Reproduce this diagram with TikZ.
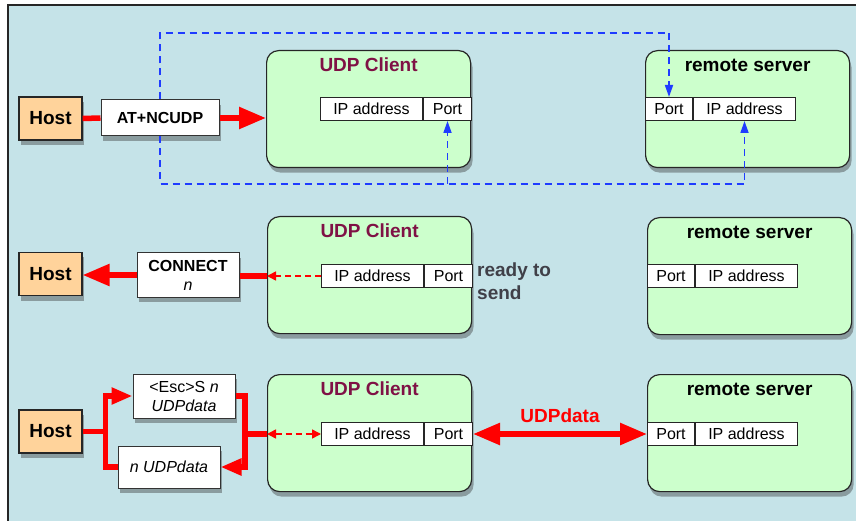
\documentclass[tikz,border=0pt]{standalone}
\usepackage{fontspec}
\setmainfont{Liberation Sans}
\usepackage{tikz}
\usetikzlibrary{arrows.meta,shadows,positioning,calc}

\definecolor{panelblue}{HTML}{C5E3E8}
\definecolor{boxgreen}{HTML}{CCFFCC}
\definecolor{hostorange}{HTML}{FFD39B}
\definecolor{titlered}{HTML}{7F1145}
\definecolor{readygray}{HTML}{404048}
\definecolor{loopblue}{HTML}{1F3CFF}

\begin{document}
\begin{tikzpicture}[x=1pt,y=-1pt,
    every node/.style={font=\fontsize{16}{19}\selectfont},
    boxshadow/.style={drop shadow={shadow xshift=2pt,shadow yshift=-5pt,opacity=0.4,fill=black!80}},
    hostbox/.style={draw=black!85,line width=1.2pt,fill=hostorange,inner sep=0pt,
      minimum width=63pt,minimum height=43pt,font=\fontsize{19}{22}\selectfont\bfseries,boxshadow},
    cmdbox/.style={draw=black!80,line width=1pt,fill=white,inner sep=0pt,align=center,
      minimum width=102pt,minimum height=44pt,boxshadow},
    machine/.style={draw=black!85,line width=1.2pt,fill=boxgreen,rounded corners=12pt,
      minimum width=204pt,minimum height=117pt,inner sep=0pt,anchor=north west,boxshadow},
    field/.style={draw=black!85,line width=1pt,fill=white,minimum height=23pt,inner sep=0pt},
    ipfield/.style={field,minimum width=102pt},
    portfield/.style={field,minimum width=48pt},
    clienttitle/.style={text=titlered,font=\fontsize{19}{22}\selectfont\bfseries},
    servertitle/.style={font=\fontsize{19}{22}\selectfont\bfseries},
    redline/.style={red,line width=5.5pt},
    bigarrow/.style={redline,-{Triangle[length=27pt,width=21pt]}},
    midarrow/.style={redline,-{Triangle[length=21pt,width=16pt]}},
    reddash/.style={red,line width=1.5pt,dash pattern=on 6pt off 4pt},
    bluedash/.style={loopblue,line width=1.7pt,dash pattern=on 7pt off 5pt,-{Triangle[length=12pt,width=8pt]}}
  ]
  \useasboundingbox (0,0) rectangle (856,521);

  % background panel
  \draw [draw=black!85,line width=1.5pt,fill=panelblue] (8,5) rectangle (880,545);

  % row 1: AT+NCUDP
  \node[hostbox] (host1) at (50.5,118.5) {Host};
  \node[cmdbox,minimum width=118pt,minimum height=36pt,font=\fontsize{16}{19}\selectfont\bfseries] (cmd1) at (160,118) {AT+NCUDP};
  \node[machine] (client1) at (266,50) {};
  \node[clienttitle] (ctitle1) at ([yshift=-15pt]client1.north) {UDP Client};
  \node[ipfield,anchor=north west] (cip1) at ($(client1.north west)+(54,47)$) {IP address};
  \node[portfield,right=0pt of cip1] (cport1) {Port};
  \node[machine] (server1) at (645,50) {};
  \node[servertitle] (stitle1) at ([yshift=-15pt]server1.north) {remote server};
  \node[portfield,minimum width=47pt,anchor=north west] (sport1) at ($(server1.north west)+(0,47)$) {Port};
  \node[ipfield,right=0pt of sport1] (sip1) {IP address};

  \draw [redline] (host1.east) -- (cmd1.west);
  \draw [bigarrow] (cmd1.east) -- (cmd1.east -| client1.west);

  % the dashed loop
  \coordinate (loopt) at (0,33);
  \coordinate (loopb) at (0,184);
  \draw [bluedash] (cmd1.north) -- (cmd1.north |- loopt) -| (sport1.north);
  \draw [bluedash] (cmd1.south) -- (cmd1.south |- loopb) -| (sip1.south);
  \draw [bluedash] (cport1.south |- loopb) -- (cport1.south);

  % row 2: CONNECT n
  \node[hostbox] (host2) at (50.5,274) {Host};
  \node[cmdbox] (conn2) at (188,275) {\textbf{CONNECT}\\\textit{n}};
  \node[machine] (client2) at (267,216) {};
  \node[clienttitle] (ctitle2) at ([yshift=-15pt]client2.north) {UDP Client};
  \node[ipfield,anchor=north west] (cip2) at ($(client2.north west)+(54,48)$) {IP address};
  \node[portfield,right=0pt of cip2] (cport2) {Port};
  \node[anchor=north west,align=left,inner sep=0pt,text=readygray,
    font=\fontsize{19}{23}\selectfont\bfseries] (ready2) at (477,263) {ready to\\send};
  \node[machine] (server2) at (647,217) {};
  \node[servertitle] (stitle2) at ([yshift=-15pt]server2.north) {remote server};
  \node[portfield,minimum width=47pt,anchor=north west] (sport2) at ($(server2.north west)+(0,47)$) {Port};
  \node[ipfield,right=0pt of sport2] (sip2) {IP address};

  \draw [reddash,-{Triangle[length=9pt,width=9pt]}] (cip2.west) -- (cip2.west -| client2.west);
  \draw [redline] (cip2.west -| client2.west) -- (cip2.west -| conn2.east);
  \draw [bigarrow] (conn2.west) -- (conn2.west -| host2.east);

  % row 3: data in both directions
  \node[hostbox] (host3) at (50.5,431.5) {Host};
  \node[cmdbox] (esc3) at (184,396) {<Esc>S \textit{n}\\\textit{UDPdata}};
  \node[cmdbox,minimum height=42pt] (data3) at (169,467) {\textit{n UDPdata}};
  \node[machine] (client3) at (267,374) {};
  \node[clienttitle] (ctitle3) at ([yshift=-15pt]client3.north) {UDP Client};
  \node[ipfield,anchor=north west] (cip3) at ($(client3.north west)+(54,48)$) {IP address};
  \node[portfield,right=0pt of cip3] (cport3) {Port};
  \node[machine] (server3) at (647,374) {};
  \node[servertitle] (stitle3) at ([yshift=-15pt]server3.north) {remote server};
  \node[portfield,minimum width=47pt,anchor=north west] (sport3) at ($(server3.north west)+(0,48)$) {Port};
  \node[ipfield,right=0pt of sport3] (sip3) {IP address};

  \coordinate (hj) at ([xshift=23pt]host3.east);
  \coordinate (cj) at ($(cip3.west -| client3.west)+(-22,0)$);
  \draw [midarrow] (host3.east) -- (hj) |- (esc3.west);
  \draw [redline] (hj) |- (data3.west);
  \draw [redline] (esc3.east) -| (cj) -- (cip3.west -| client3.west);
  \draw [midarrow] (cj) |- (data3.east);
  \draw [reddash,{Triangle[length=9pt,width=9pt]}-{Triangle[length=9pt,width=9pt]}] (cip3.west -| client3.west) -- (cip3.west);
  \draw [redline,{Triangle[length=27pt,width=21pt]}-{Triangle[length=27pt,width=21pt]}] (cport3.east) -- (sport3.west)
    node[midway,above=5pt,text=red,font=\fontsize{19}{22}\selectfont\bfseries] (udp) {UDPdata};
\end{tikzpicture}
\end{document}
